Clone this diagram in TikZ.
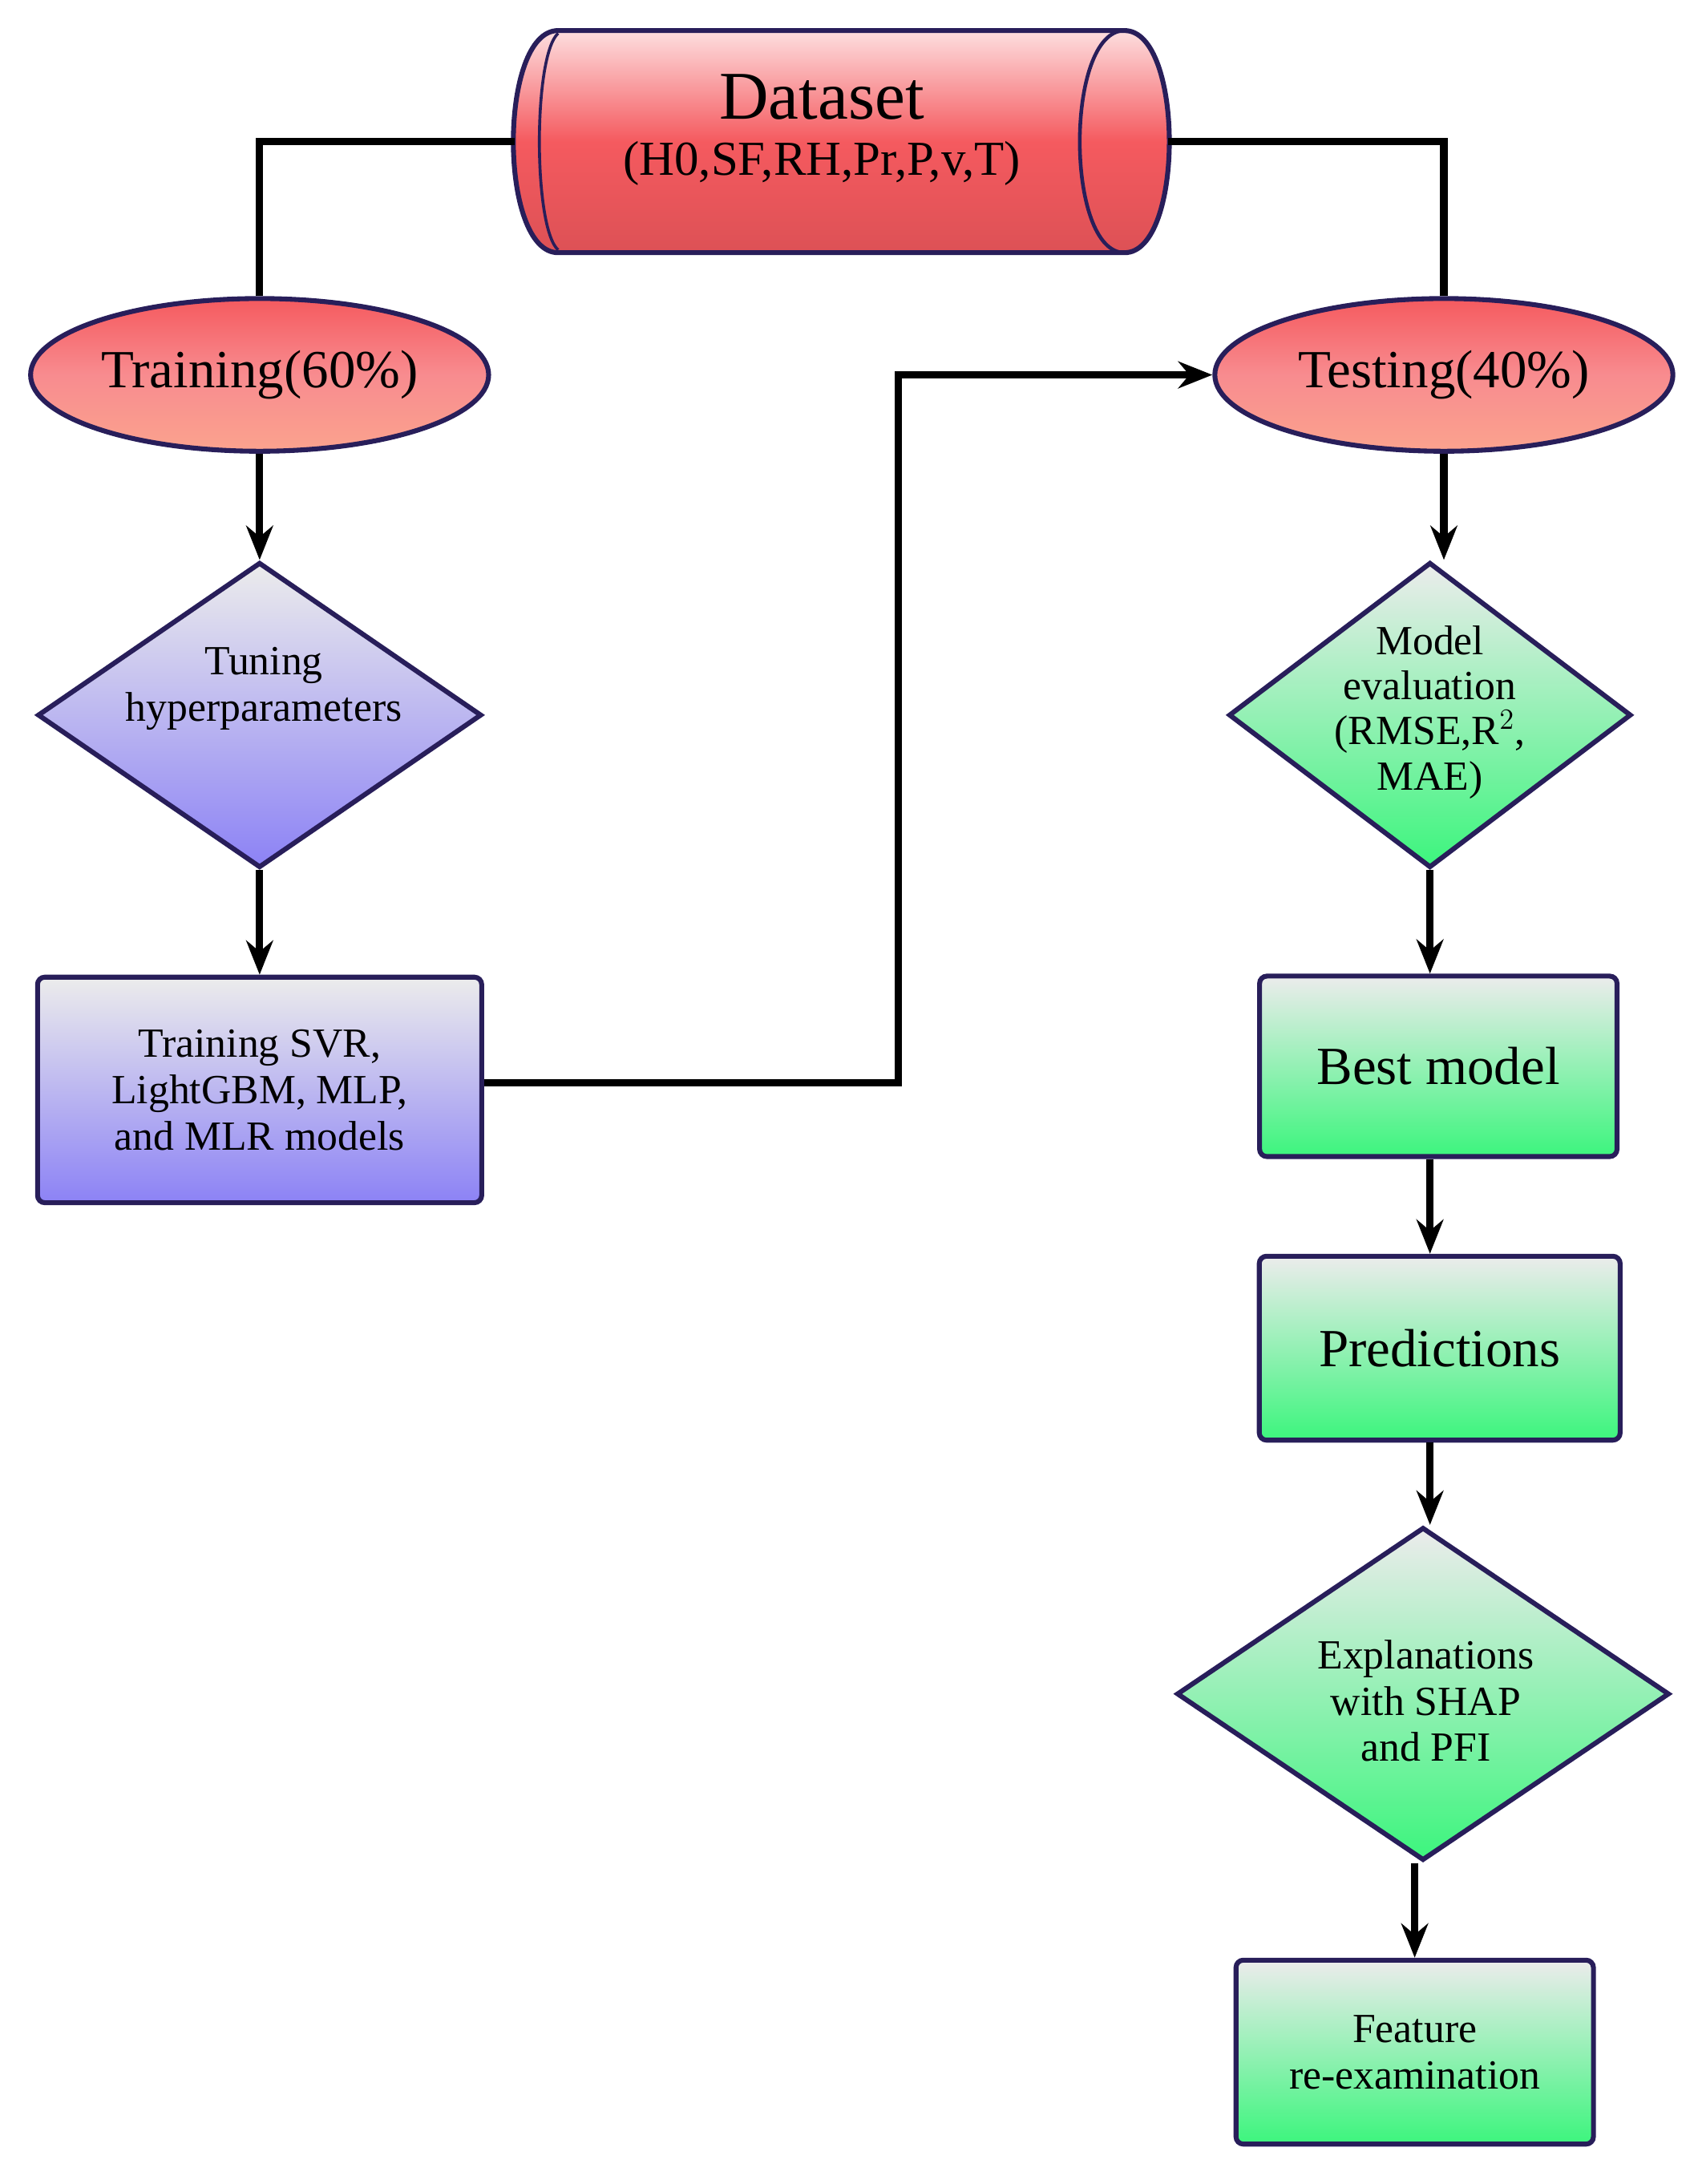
\documentclass[tikz,border=0pt]{standalone}
\usepackage{fontspec}
\setmainfont{Liberation Serif}
\usetikzlibrary{shapes.geometric,arrows.meta,calc}
\definecolor{rd}{RGB}{245,90,95}
\definecolor{pu}{RGB}{140,130,245}
\definecolor{gr}{RGB}{60,245,125}
\definecolor{bd}{RGB}{40,30,90}
\tikzset{
 base/.style={draw=bd,line width=2pt,top color=white!85!gray,inner sep=0pt},
 ell/.style={base,ellipse,top color=rd,bottom color=orange!30!rd!60,middle color=rd!70,minimum width=6.6cm,minimum height=2.2cm},
 dia/.style={base,diamond},
 box/.style={base,rounded corners=3pt,align=center},
 con/.style={line width=3pt},
 arr/.style={con,-{Stealth[length=14pt,width=11pt]}},
 lbl/.style={align=center}
}
\begin{document}
\begin{tikzpicture}[x=0.02cm,y=-0.02cm]
\useasboundingbox (0,0) rectangle (1220,1573);
% cylinder drawn directly
\shade[top color=white!80!rd,bottom color=rd!90!black,middle color=rd]
  (402,22) -- (810,22) .. controls (853,22) and (853,182) .. (810,182)
  -- (402,182) .. controls (359,182) and (359,22) .. (402,22) -- cycle;
\draw[bd,line width=2pt]
  (402,22) -- (810,22) .. controls (853,22) and (853,182) .. (810,182)
  -- (402,182) .. controls (359,182) and (359,22) .. (402,22) -- cycle;
\draw[bd,line width=1.5pt] (810,22) .. controls (767,22) and (767,182) .. (810,182);
\draw[bd,line width=1.2pt] (402,24) .. controls (384,40) and (384,164) .. (402,180);
\node[minimum width=9.4cm,minimum height=3.2cm,inner sep=0pt] (ds) at (606,102) {};
\node[lbl,font=\fontsize{28}{30}\selectfont] (dst) at (592,70) {Dataset};
\node[lbl,font=\fontsize{20}{22}\selectfont] (dsp) at (592,118) {(H0,SF,RH,Pr,P,v,T)};
\node[ell,font=\fontsize{22}{24}\selectfont] (tr) at (187,270) {Training(60\%)};
\node[ell,font=\fontsize{22}{24}\selectfont] (te) at (1040,270) {Testing(40\%)};
\node[dia,bottom color=pu,minimum width=6.4cm,minimum height=4.4cm] (tu) at (187,515) {};
\node[lbl,font=\fontsize{17}{19}\selectfont] (tut) at (190,496) {Tuning\\hyperparameters};
\node[box,bottom color=pu,minimum width=6.4cm,minimum height=3.25cm,font=\fontsize{17}{19}\selectfont] (ts) at (187,785) {Training SVR,\\LightGBM, MLP,\\and MLR models};
\node[dia,bottom color=gr,minimum width=5.8cm,minimum height=4.4cm] (me) at (1030,515) {};
\node[lbl,font=\fontsize{17}{18.5}\selectfont] (met) at (1030,513) {Model\\evaluation\\(RMSE,R$^2$,\\MAE)};
\node[box,bottom color=gr,minimum width=5.15cm,minimum height=2.6cm,font=\fontsize{22}{24}\selectfont] (bm) at (1036,768) {Best model};
\node[box,bottom color=gr,minimum width=5.2cm,minimum height=2.65cm,font=\fontsize{22}{24}\selectfont] (pr) at (1037,971) {Predictions};
\node[dia,bottom color=gr,minimum width=7.1cm,minimum height=4.8cm] (ex) at (1025,1220) {};
\node[lbl,font=\fontsize{17}{19}\selectfont] (ext) at (1027,1225) {Explanations\\with SHAP\\and PFI};
\node[box,bottom color=gr,minimum width=5.15cm,minimum height=2.65cm,font=\fontsize{17}{19}\selectfont] (fe) at (1019,1478) {Feature\\re-examination};
\draw[con] (ds.west) -| (tr.north);
\draw[con] (ds.east) -| (te.north);
\draw[arr] (tr.south) -- (tu.north);
\draw[arr] (tu.south) -- (ts.north);
\coordinate (k) at (647,780);
\draw[arr] (ts.east |- k) -- (k) |- (te.west);
\draw[arr] (te.south) -- (te.south |- me.north);
\draw[arr] (me.south) -- (me.south |- bm.north);
\draw[arr] (me.south |- bm.south) -- (me.south |- pr.north);
\draw[arr] (me.south |- pr.south) -- (me.south |- ex.north);
\draw[arr] (fe.north |- ex.south) -- (fe.north);
\end{tikzpicture}
\end{document}
